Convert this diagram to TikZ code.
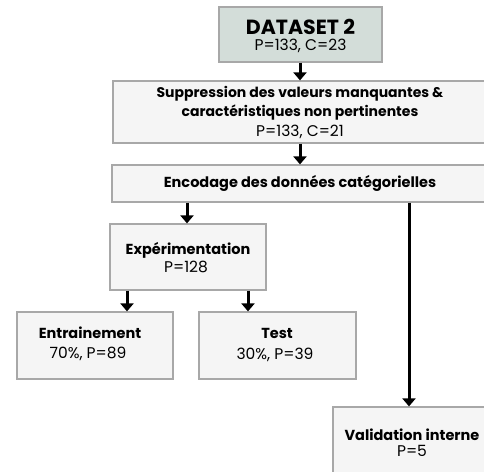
\documentclass[tikz,border=0pt]{standalone}
\usepackage{fontspec}
\setmainfont{Poppins}
\usetikzlibrary{arrows.meta}
\definecolor{boxfill}{HTML}{F5F5F5}
\definecolor{boxdraw}{HTML}{A8A8A8}
\definecolor{topfill}{HTML}{D3DDD9}
\tikzset{
  box/.style={draw=boxdraw, fill=boxfill, line width=1.2pt, inner sep=0pt},
  arr/.style={line width=3pt, -{Triangle[width=13pt,length=8pt]}},
  hd/.style={font=\fontsize{14.5}{18}\selectfont\bfseries, inner sep=0pt},
  vl/.style={font=\fontsize{15.5}{18}\selectfont, inner sep=0pt}
}
\begin{document}
\begin{tikzpicture}[x=1pt,y=-1pt]
\useasboundingbox (0,0) rectangle (484,471);
\begin{scope}
\clip (0,0) rectangle (484,471);
% boxes
\node[box, fill=topfill, minimum width=163pt, minimum height=55pt] (ds) at (300.5,34.5) {};
\node[font=\fontsize{20.5}{22}\selectfont\bfseries, inner sep=0pt] (dst) at (300.5,27) {DATASET 2};
\node[vl] (dsv) at (300.5,46) {P=133, C=23};

\node[box, minimum width=380pt, minimum height=62pt] (sup) at (303,112) {};
\node[hd, font=\fontsize{14}{18}\selectfont\bfseries] (supt1) at (300,94) {Suppression des valeurs manquantes \&};
\node[hd, font=\fontsize{14}{18}\selectfont\bfseries] (supt2) at (300,113) {caractéristiques non pertinentes};
\node[vl] (supv) at (300,132) {P=133, C=21};

\node[box, minimum width=384pt, minimum height=37pt] (enc) at (304,183.5) {};
\node[hd] (enct) at (300,183.5) {Encodage des données catégorielles};

\node[box, minimum width=156pt, minimum height=66pt] (exp) at (188,257) {};
\node[hd] (expt) at (188,250) {Expérimentation};
\node[vl] (expv) at (186,267) {P=128};

\node[box, minimum width=156pt, minimum height=67pt] (ent) at (95,345.5) {};
\node[hd] (entt) at (90,333) {Entrainement};
\node[vl] (entv) at (88,354) {70\%, P=89};

\node[box, minimum width=157pt, minimum height=67pt] (tst) at (277.5,345.5) {};
\node[hd] (tstt) at (277,333) {Test};
\node[vl] (tstv) at (275,355) {30\%, P=39};

\node[box, minimum width=158pt, minimum height=74pt] (val) at (412,444) {};
\node[hd] (valt) at (412,435) {Validation interne};
\node[vl] (valv) at (412,451) {P=5};

% connectors
\coordinate (c0) at (300,0);
\draw[arr] (ds.south -| c0) -- (sup.north -| c0);
\draw[arr] (sup.south -| c0) -- (enc.north -| c0);
\coordinate (c3) at (187,0);
\draw[arr] (enc.south -| c3) -- (exp.north -| c3);
\coordinate (e1) at (127,0);
\coordinate (e2) at (248,0);
\draw[arr] (exp.south -| e1) -- (ent.north -| e1);
\draw[arr] (exp.south -| e2) -- (tst.north -| e2);
\coordinate (v1) at (409,0);
\draw[arr] (enc.south -| v1) -- (val.north -| v1);
\end{scope}
\end{tikzpicture}
\end{document}
